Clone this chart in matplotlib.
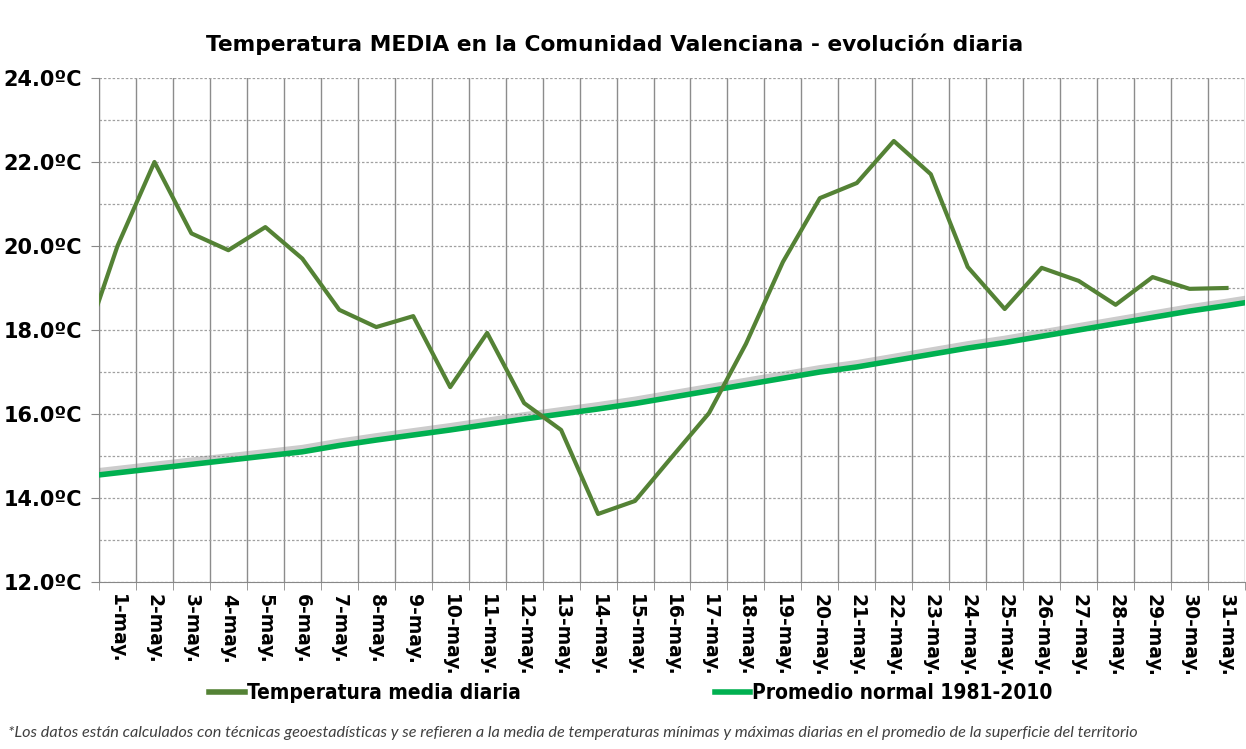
"""Temperatura media diaria en la Comunidad Valenciana, mayo."""
import matplotlib
matplotlib.use("Agg")
import matplotlib.pyplot as plt
import matplotlib.patheffects as pe
from matplotlib.lines import Line2D
from matplotlib.ticker import MultipleLocator

days = [f"{d}-may." for d in range(1, 32)]

# 30-abr (fuera de eje) + 1..31 mayo
daily = [17.4, 20.0, 22.0, 20.3, 19.9, 20.45, 19.7, 18.48, 18.07, 18.33, 16.64,
         17.93, 16.26, 15.62, 13.62, 13.93, 14.98, 16.02, 17.67, 19.62, 21.14,
         21.5, 22.5, 21.71, 19.5, 18.5, 19.48, 19.17, 18.6, 19.26, 18.98, 19.0]

# 30-abr + 1..31 mayo + 1-jun
normal = [14.5, 14.6, 14.7, 14.8, 14.9, 15.0, 15.1, 15.25, 15.38, 15.5, 15.62,
          15.75, 15.88, 16.0, 16.12, 16.25, 16.4, 16.55, 16.7, 16.85, 17.0,
          17.12, 17.27, 17.42, 17.57, 17.7, 17.85, 18.0, 18.15, 18.3, 18.45,
          18.58, 18.72]

daily_color = "#548235"
normal_color = "#00B050"

fig = plt.figure(figsize=(12.46, 7.49), dpi=100)
ax = fig.add_axes([99 / 1246, 167 / 749, 1146 / 1246, 504 / 749])

ax.plot(range(len(normal)), normal, color=normal_color, lw=4, zorder=3,
        solid_capstyle="butt",
        path_effects=[pe.SimpleLineShadow(offset=(0, 3), shadow_color="gray",
                                          alpha=0.4),
                      pe.Normal()])
ax.plot(range(len(daily)), daily, color=daily_color, lw=3, zorder=4)

ax.set_xlim(0.5, 31.5)
ax.set_ylim(12, 24)
ax.set_xticks(range(1, 32))
ax.set_xticklabels(days, rotation=-90, fontsize=13.5, fontweight="bold")
ax.set_xticks([k + 0.5 for k in range(0, 32)], minor=True)
ax.tick_params(axis="x", which="major", length=0, pad=9)
ax.tick_params(axis="x", which="minor", length=6, color="#888888")
ax.grid(axis="x", which="minor", color="#8c8c8c", lw=1)

ax.yaxis.set_major_locator(MultipleLocator(2))
ax.yaxis.set_minor_locator(MultipleLocator(1))
ax.set_yticklabels([f"{v:.1f}ºC" for v in ax.get_yticks()], fontsize=15,
                   fontweight="bold")
ax.tick_params(axis="y", which="major", length=6, color="#888888", pad=6)
ax.tick_params(axis="y", which="minor", length=0)
ax.grid(axis="y", which="both", color="#a0a0a0", lw=0.9, ls=(0, (2, 1.5)))

for side in ["top", "right"]:
    ax.spines[side].set_visible(False)
ax.spines["left"].set_color("#888888")
ax.spines["bottom"].set_color("#888888")

fig.text(615 / 1246, 1 - 44 / 749,
         "Temperatura MEDIA en la Comunidad Valenciana - evolución diaria",
         ha="center", va="center", fontsize=15.7, fontweight="bold")

handles = [Line2D([], [], color=daily_color, lw=4),
           Line2D([], [], color=normal_color, lw=4)]
fig.legend(handles, ["Temperatura media diaria", "Promedio normal 1981-2010"],
           loc="center", bbox_to_anchor=(631 / 1246, 1 - 693 / 749), ncol=2,
           frameon=False, handlelength=1.7, handletextpad=0.1,
           columnspacing=9.3,
           prop={"family": ["DejaVu Sans"], "stretch": "condensed",
                 "weight": "bold", "size": 15})

fig.text(8 / 1246, 1 - 733 / 749,
         "*Los datos están calculados con técnicas geoestadísticas y se refieren "
         "a la media de temperaturas mínimas y máximas diarias en el promedio de "
         "la superficie del territorio",
         ha="left", va="center", fontsize=11.7, style="italic", color="#404040",
         family=["Lato", "DejaVu Sans"])

fig.savefig("out.png", dpi=100)
